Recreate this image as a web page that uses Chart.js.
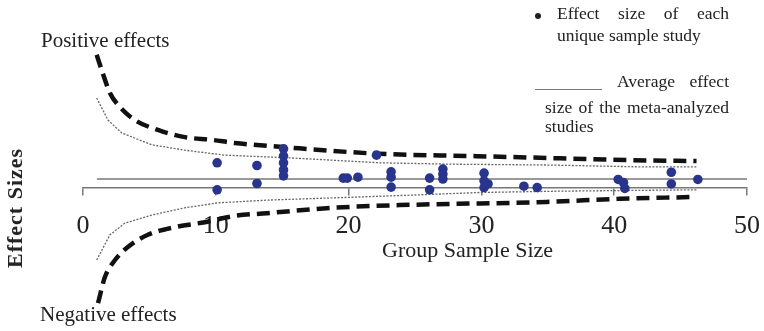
<!DOCTYPE html>
<html>
<head>
<meta charset="utf-8">
<script src="https://cdn.jsdelivr.net/npm/chart.js@4.4.1/dist/chart.umd.min.js"></script>
<style>
  body { margin: 0; background: #fff; }
  #wrap { position: relative; width: 764px; height: 331px; }
  .txt { position: absolute; font-family: "Liberation Serif", serif; color: #222; line-height: 1; white-space: nowrap; }
  .just { text-align: justify; text-align-last: justify; white-space: normal; }
</style>
</head>
<body>
<div id="wrap">
  <canvas id="chart1"></canvas>

  <div class="txt" style="left:41px; top:30px; font-size:21px;">Positive effects</div>
  <div class="txt" style="left:40px; top:304px; font-size:21px;">Negative effects</div>
  <div class="txt" style="left:382px; top:239px; font-size:22px;">Group Sample Size</div>
  <div class="txt" style="left:15px; top:208px; font-size:22px; font-weight:bold; letter-spacing:1px; transform:translate(-50%,-50%) rotate(-90deg);">Effect Sizes</div>

  <!-- key, top right -->
  <div style="position:absolute; left:535px; top:13px; width:6px; height:6px; border-radius:50%; background:#222;"></div>
  <div class="txt just" style="left:557px; top:5px; width:172px; font-size:17.5px;">Effect size of each</div>
  <div class="txt" style="left:557px; top:27px; font-size:17.5px;">unique sample study</div>
  <div style="position:absolute; left:535px; top:89px; width:67px; border-top:1.5px solid #777;"></div>
  <div class="txt just" style="left:617px; top:73px; width:112px; font-size:17.5px;">Average effect</div>
  <div class="txt just" style="left:545px; top:99px; width:184px; font-size:17.5px;">size of the meta-analyzed</div>
  <div class="txt" style="left:545px; top:118px; font-size:17.5px;">studies</div>
</div>

<script>
// studies: group sample size and effect size
var studyN = [10.1, 10.1, 13.1, 13.1, 15.1, 15.1, 15.1, 15.1, 15.1, 19.6, 19.9, 20.7, 22.1,
              23.2, 23.2, 23.2, 26.1, 26.1, 27.1, 27.1, 27.1, 30.2, 30.2, 30.5, 30.2,
              33.2, 34.2, 40.3, 40.7, 40.8, 44.3, 44.3, 46.3];
var studyES = [0.56, -0.04, 0.50, 0.10, 0.87, 0.71, 0.56, 0.40, 0.27, 0.22, 0.22, 0.24, 0.73,
               0.36, 0.24, 0.02, 0.22, -0.04, 0.42, 0.31, 0.20, 0.33, 0.16, 0.09, 0.01,
               0.04, 0.01, 0.19, 0.12, -0.01, 0.35, 0.09, 0.19];

// average effect
var meanES = 0.2;
var meanN = [1.05, 50];

// outer funnel (dashed)
var outerUpperN = [1.03, 1.41, 2.03, 2.78, 3.91, 5.64, 7.67, 9.7, 11.43, 15.04, 22.33, 29.3, 35.9, 42.6, 46.2];
var outerUpperES = [2.96, 2.62, 2.11, 1.80, 1.51, 1.29, 1.13, 1.07, 1.00, 0.91, 0.76, 0.71, 0.66, 0.61, 0.60];
var outerLowerN = [1.13, 1.65, 2.41, 3.38, 4.89, 6.92, 9.17, 11.43, 13.83, 18.8, 23.83, 34.89, 40.4, 46.0];
var outerLowerES = [-2.56, -1.98, -1.60, -1.31, -1.04, -0.87, -0.76, -0.62, -0.56, -0.44, -0.38, -0.31, -0.24, -0.20];

// inner funnel (dotted)
var innerUpperN = [1.03, 1.88, 2.93, 5.19, 7.67, 10.68, 15.56, 22.33, 27.6, 35.1, 41.9, 46.2];
var innerUpperES = [2.00, 1.51, 1.22, 0.96, 0.84, 0.73, 0.67, 0.56, 0.53, 0.51, 0.47, 0.47];
var innerLowerN = [1.03, 2.03, 3.16, 5.19, 7.67, 10.15, 13.83, 18.8, 24.6, 29.85, 35.9, 46.2];
var innerLowerES = [-1.60, -1.04, -0.78, -0.60, -0.44, -0.33, -0.27, -0.22, -0.16, -0.10, -0.07, -0.04];

var xTicks = [0, 10, 20, 30, 40, 50];

function pts(xs, ys) {
  return xs.map(function (x, i) { return { x: x, y: Array.isArray(ys) ? ys[i] : ys }; });
}

function dashed(xs, ys) {
  return {
    data: pts(xs, ys), showLine: true, pointRadius: 0, borderColor: '#111',
    borderWidth: 4.5, borderDash: [13, 7], cubicInterpolationMode: 'monotone', order: 3
  };
}

function dotted(xs, ys) {
  return {
    data: pts(xs, ys), showLine: true, pointRadius: 0, borderColor: '#666',
    borderWidth: 1.3, borderDash: [2, 1.5], tension: 0, order: 3
  };
}

var graph = document.getElementById('chart1');

var myChart = new Chart(graph, {
  type: 'scatter',
  data: {
    datasets: [{
      data: pts(studyN, studyES),
      backgroundColor: '#29358c',
      borderWidth: 0,
      pointRadius: 4.8,
      order: 1
    }, {
      data: pts(meanN, meanES),
      showLine: true, pointRadius: 0, borderColor: '#777', borderWidth: 1.5, order: 2
    },
      dashed(outerUpperN, outerUpperES),
      dashed(outerLowerN, outerLowerES),
      dotted(innerUpperN, innerUpperES),
      dotted(innerLowerN, innerLowerES)
    ]
  },
  options: {
    responsive: true,
    maintainAspectRatio: false,
    animation: false,
    layout: { padding: { left: 83, right: 17, top: 8, bottom: 8 } },
    plugins: { legend: { display: false }, tooltip: { enabled: false } },
    scales: {
      x: {
        type: 'linear', min: 0, max: 50,
        position: { y: 0 },
        afterBuildTicks: function (axis) {
          axis.ticks = xTicks.map(function (v) { return { value: v }; });
        },
        // labels may overhang the ends, keep the axis on the full width
        afterFit: function (axis) {
          axis.paddingLeft = 0;
          axis.paddingRight = 0;
        },
        ticks: {
          color: '#222', padding: 16, maxRotation: 0,
          font: { family: 'Liberation Serif', size: 26 }
        },
        grid: { drawOnChartArea: false, drawTicks: true, tickLength: 7, color: '#777', lineWidth: 1.5 },
        border: { display: true, color: '#777', width: 1.5 }
      },
      y: { display: false, min: -3, max: 4 }
    }
  }
});
</script>
</body>
</html>
